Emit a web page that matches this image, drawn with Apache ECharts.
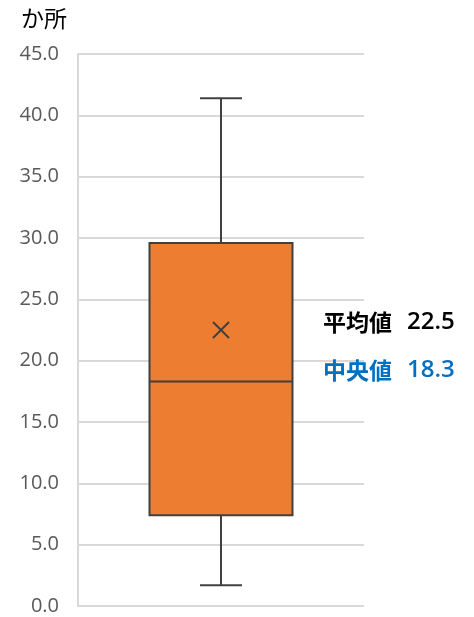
<!DOCTYPE html>
<html lang="ja">
<head>
<meta charset="UTF-8">
<title>か所</title>
<style>
  * { margin: 0; padding: 0; }
  body { background: #fff; }
  #chart { width: 474px; height: 617px; }
</style>
<script src="https://cdn.jsdelivr.net/npm/echarts@6/dist/echarts.min.js"></script>
</head>
<body>
<div id="chart"></div>
<script>
// data
var categories = ['全体'];
var minVals = [1.7];
var q1Vals = [7.4];
var medianVals = [18.3];
var q3Vals = [29.6];
var maxVals = [41.4];
var meanVals = [22.5];
var yTicks = [0, 5, 10, 15, 20, 25, 30, 35, 40, 45];

var jp = '"Noto Sans CJK JP", "Noto Sans", sans-serif';
var num = '"Open Sans", "Noto Sans", sans-serif';
var rows = categories.map(function (c, i) {
  return [i, minVals[i], q1Vals[i], medianVals[i], q3Vals[i], maxVals[i], meanVals[i]];
});

function tag(x, y, name, value, color) {
  return {
    type: 'text', x: x, y: y,
    style: {
      text: '{a|' + name + '}{b|' + value.toFixed(1) + '}',
      textVerticalAlign: 'middle',
      rich: {
        a: { fontFamily: jp, fontSize: 23, fontWeight: 'bold', fill: color, padding: [0, 15, 0, 0] },
        b: { fontFamily: num, fontSize: 24, fontWeight: 600, fill: color }
      }
    }
  };
}

function renderBox(params, api) {
  var i = api.value(0);
  var band = api.size([1, 0])[0];
  var half = band * 0.25, cap = 21, lw = 2, stroke = '#404040';
  var pMin = api.coord([i, api.value(1)]);
  var pQ1 = api.coord([i, api.value(2)]);
  var pMed = api.coord([i, api.value(3)]);
  var pQ3 = api.coord([i, api.value(4)]);
  var pMax = api.coord([i, api.value(5)]);
  var pMean = api.coord([i, api.value(6)]);
  var cx = pMed[0];
  var line = function (x1, y1, x2, y2) {
    return { type: 'line', shape: { x1: x1, y1: y1, x2: x2, y2: y2 },
      style: { stroke: stroke, lineWidth: lw } };
  };
  var m = 8;
  return {
    type: 'group',
    children: [
      line(cx, pMax[1], cx, pQ3[1]),
      line(cx, pQ1[1], cx, pMin[1]),
      line(cx - cap, pMax[1], cx + cap, pMax[1]),
      line(cx - cap, pMin[1], cx + cap, pMin[1]),
      { type: 'rect', shape: { x: cx - half, y: pQ3[1], width: half * 2, height: pQ1[1] - pQ3[1] },
        style: { fill: '#ED7D31', stroke: stroke, lineWidth: lw } },
      line(cx - half, pMed[1], cx + half, pMed[1]),
      line(pMean[0] - m, pMean[1] - m, pMean[0] + m, pMean[1] + m),
      line(pMean[0] - m, pMean[1] + m, pMean[0] + m, pMean[1] - m),
      tag(323, pMean[1] - 8, '平均値', api.value(6), '#000'),
      tag(323, pMed[1] - 11, '中央値', api.value(3), '#0070C0')
    ]
  };
}

var chart = echarts.init(document.getElementById('chart'));
chart.setOption({
  animation: false,
  grid: { left: 78, right: 110, top: 54, bottom: 11 },
  graphic: [{
    type: 'text', left: 21, top: 7,
    style: { text: 'か所', fill: '#000', font: '23px ' + jp }
  }],
  xAxis: {
    type: 'category',
    data: categories,
    axisLine: { show: false },
    axisTick: { show: false },
    axisLabel: { show: false }
  },
  yAxis: {
    type: 'value',
    min: yTicks[0],
    max: yTicks[yTicks.length - 1],
    interval: 5,
    axisLine: { show: true, lineStyle: { color: '#d9d9d9', width: 2 } },
    axisTick: { show: false },
    axisLabel: {
      color: '#595959', fontSize: 20, margin: 19,
      fontFamily: '"Open Sans", "Noto Sans", sans-serif',
      formatter: function (v) { return v.toFixed(1); }
    },
    splitLine: { lineStyle: { color: '#d9d9d9', width: 2 } }
  },
  series: [{
    type: 'custom',
    renderItem: renderBox,
    encode: { x: 0, y: [1, 2, 3, 4, 5, 6] },
    data: rows,
    clip: false
  }]
});
</script>
</body>
</html>
